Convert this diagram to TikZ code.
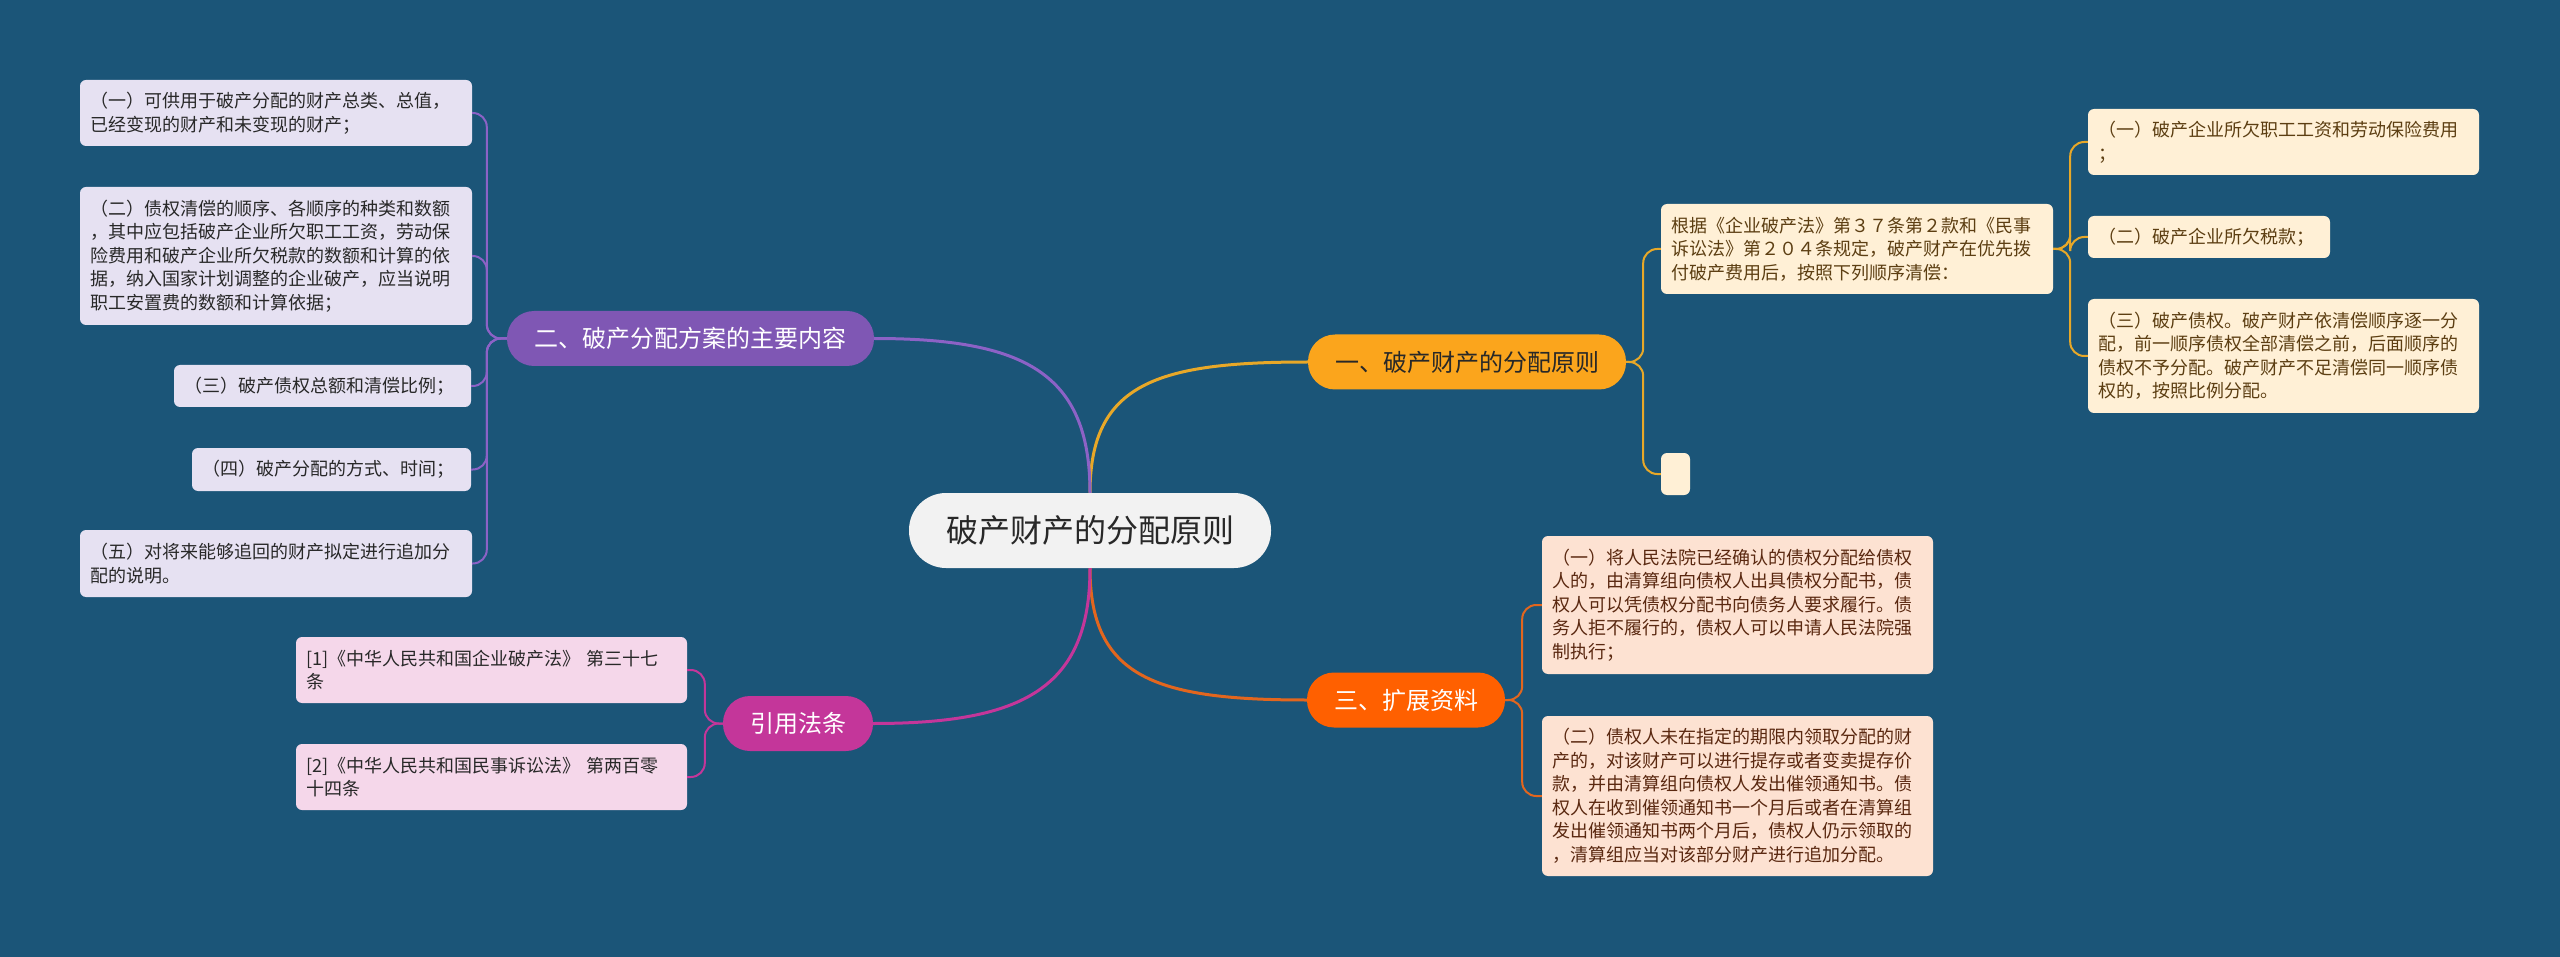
\documentclass[tikz,border=0pt]{standalone}
\usepackage{fontspec}
\setmainfont{Noto Sans CJK SC}
\definecolor{MapFond}{RGB}{27, 85, 120}
\definecolor{MapRacine}{RGB}{242, 242, 242}
\definecolor{MapTexte}{RGB}{40, 40, 40}
\definecolor{MapOr}{RGB}{251, 165, 28}
\definecolor{MapOrLien}{RGB}{232, 168, 40}
\definecolor{MapOrFeuille}{RGB}{255, 240, 214}
\definecolor{MapOrTexte}{RGB}{92, 62, 18}
\definecolor{MapViolet}{RGB}{127, 87, 180}
\definecolor{MapVioletLien}{RGB}{140, 98, 198}
\definecolor{MapVioletFeuille}{RGB}{230, 225, 242}
\definecolor{MapRouge}{RGB}{255, 96, 0}
\definecolor{MapRougeLien}{RGB}{226, 102, 30}
\definecolor{MapRougeFeuille}{RGB}{253, 226, 210}
\definecolor{MapRougeTexte}{RGB}{90, 40, 16}
\definecolor{MapRose}{RGB}{196, 54, 154}
\definecolor{MapRoseFeuille}{RGB}{245, 215, 234}
\tikzset{
	racine/.style={fill=MapRacine, text=MapTexte, rounded corners=37pt, minimum width=362pt, minimum height=75pt, inner sep=0pt, font=\fontsize{32}{38}\selectfont},
	branche/.style={rounded corners=27pt, minimum height=55pt, inner sep=0pt, font=\fontsize{24}{28}\selectfont},
	feuille/.style={rounded corners=6pt, inner xsep=10pt, inner ysep=0pt, align=left, font=\fontsize{18}{23.5}\selectfont},
	lien/.style={line width=3pt},
	sublien/.style={line width=2pt, rounded corners=14pt},
}

\begin{document}
\begin{tikzpicture}[x=1pt, y=-1pt]
			\useasboundingbox (0,0) rectangle (2560,957);
			\fill[MapFond] (0,0) rectangle (2560,957);
			% centre et branches
			\draw (1090,530.5) node[racine] (racine) {破产财产的分配原则};
			\draw (1467,362) node[branche, fill=MapOr, text=MapTexte, minimum width=318pt] (b1) {一、破产财产的分配原则};
			\draw (690.5,338.5) node[branche, fill=MapViolet, text=white, minimum width=367pt] (b2) {二、破产分配方案的主要内容};
			\draw (1406,700) node[branche, fill=MapRouge, text=white, minimum width=198pt] (b3) {三、扩展资料};
			\draw (798,723.5) node[branche, fill=MapRose, text=white, minimum width=150pt] (b4) {引用法条};
			\draw[lien, MapOrLien] (racine.north) .. controls +(0,-110) and +(-150,0) .. (b1.west);
			\draw[lien, MapVioletLien] (racine.north) .. controls +(0,-120) and +(150,0) .. (b2.east);
			\draw[lien, MapRougeLien] (racine.south) .. controls +(0,110) and +(-150,0) .. (b3.west);
			\draw[lien, MapRose] (racine.south) .. controls +(0,120) and +(150,0) .. (b4.east);
			% un
			\draw (1857,249) node[feuille, fill=MapOrFeuille, text=MapOrTexte, text width=372pt, minimum height=90pt] (u0) {根据《企业破产法》第３７条第２款和《民事\\诉讼法》第２０４条规定，破产财产在优先拨\\付破产费用后，按照下列顺序清偿：};
			\draw (1675.5,474) node[feuille, fill=MapOrFeuille, inner xsep=0pt, minimum width=29pt, minimum height=42pt] (uvide) {};
			\draw (2283.5,142) node[feuille, fill=MapOrFeuille, text=MapOrTexte, text width=371pt, minimum height=66pt] (u1) {（一）破产企业所欠职工工资和劳动保险费用\\；};
			\draw (2209,237) node[feuille, fill=MapOrFeuille, text=MapOrTexte, text width=222pt, minimum height=42pt] (u2) {（二）破产企业所欠税款；};
			\draw (2283.5,356) node[feuille, fill=MapOrFeuille, text=MapOrTexte, text width=371pt, minimum height=114pt] (u3) {（三）破产债权。破产财产依清偿顺序逐一分\\配，前一顺序债权全部清偿之前，后面顺序的\\债权不予分配。破产财产不足清偿同一顺序债\\权的，按照比例分配。};
			\draw[sublien, MapOrLien] (b1.east) -- ++(17,0) |- (u0.west);
			\draw[sublien, MapOrLien] (b1.east) -- ++(17,0) |- (uvide.west);
			\draw[sublien, MapOrLien] (u0.east) -- ++(17,0) |- (u1.west);
			\draw[sublien, MapOrLien] (u0.east) -- ++(17,0) |- (u2.west);
			\draw[sublien, MapOrLien] (u0.east) -- ++(17,0) |- (u3.west);
			% deux
			\draw (276,113) node[feuille, fill=MapVioletFeuille, text=MapTexte, text width=372pt, minimum height=66pt] (d1) {（一）可供用于破产分配的财产总类、总值，\\已经变现的财产和未变现的财产；};
			\draw (276,256) node[feuille, fill=MapVioletFeuille, text=MapTexte, text width=372pt, minimum height=138pt] (d2) {（二）债权清偿的顺序、各顺序的种类和数额\\，其中应包括破产企业所欠职工工资，劳动保\\险费用和破产企业所欠税款的数额和计算的依\\据，纳入国家计划调整的企业破产，应当说明\\职工安置费的数额和计算依据；};
			\draw (322.5,386) node[feuille, fill=MapVioletFeuille, text=MapTexte, text width=277pt, minimum height=42pt] (d3) {（三）破产债权总额和清偿比例；};
			\draw (331.5,469.5) node[feuille, fill=MapVioletFeuille, text=MapTexte, text width=259pt, minimum height=43pt] (d4) {（四）破产分配的方式、时间；};
			\draw (276,563.5) node[feuille, fill=MapVioletFeuille, text=MapTexte, text width=372pt, minimum height=67pt] (d5) {（五）对将来能够追回的财产拟定进行追加分\\配的说明。};
			\foreach \f in {d1,d2,d3,d4,d5}
				\draw[sublien, MapVioletLien] (b2.west) -- ++(-20,0) |- (\f.east);
			% trois
			\draw (1737.5,605) node[feuille, fill=MapRougeFeuille, text=MapRougeTexte, text width=371pt, minimum height=138pt] (t1) {（一）将人民法院已经确认的债权分配给债权\\人的，由清算组向债权人出具债权分配书，债\\权人可以凭债权分配书向债务人要求履行。债\\务人拒不履行的，债权人可以申请人民法院强\\制执行；};
			\draw (1737.5,796) node[feuille, fill=MapRougeFeuille, text=MapRougeTexte, text width=371pt, minimum height=160pt] (t2) {（二）债权人未在指定的期限内领取分配的财\\产的，对该财产可以进行提存或者变卖提存价\\款，并由清算组向债权人发出催领通知书。债\\权人在收到催领通知书一个月后或者在清算组\\发出催领通知书两个月后，债权人仍示领取的\\，清算组应当对该部分财产进行追加分配。};
			\draw[sublien, MapRougeLien] (b3.east) -- ++(17,0) |- (t1.west);
			\draw[sublien, MapRougeLien] (b3.east) -- ++(17,0) |- (t2.west);
			% lois
			\draw (491.5,670) node[feuille, fill=MapRoseFeuille, text=MapTexte, text width=371pt, minimum height=66pt] (c1) {[1]《中华人民共和国企业破产法》 第三十七\\条};
			\draw (491.5,777) node[feuille, fill=MapRoseFeuille, text=MapTexte, text width=371pt, minimum height=66pt] (c2) {[2]《中华人民共和国民事诉讼法》 第两百零\\十四条};
			\draw[sublien, MapRose] (b4.west) -- ++(-18,0) |- (c1.east);
			\draw[sublien, MapRose] (b4.west) -- ++(-18,0) |- (c2.east);
		\end{tikzpicture}
\end{document}
